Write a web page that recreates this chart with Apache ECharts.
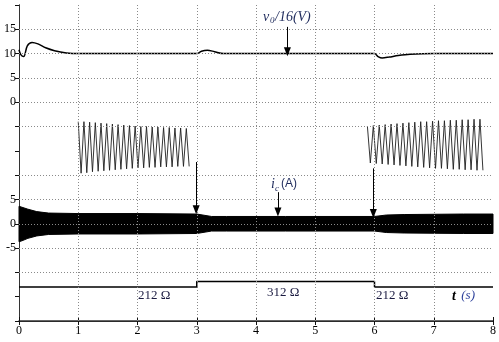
<!DOCTYPE html>
<html>
<head>
<meta charset="utf-8">
<script src="https://cdn.jsdelivr.net/npm/echarts@6/dist/echarts.min.js"></script>
<style>
  html, body { margin: 0; padding: 0; background: #fff; }
  #chart { width: 499px; height: 342px; }
</style>
</head>
<body>
<div id="chart"></div>
<script>
// 上面板 v0/16 (V)
var vTime = [0, 0.03, 0.08, 0.14, 0.22, 0.32, 0.45, 0.6, 0.8, 1.0, 3.0, 3.08, 3.18, 3.3, 3.45, 6.0, 6.06, 6.13, 6.25, 6.4, 6.6, 7.0, 8.0]
var vValue = [10.8, 9.8, 9.4, 11.6, 12.3, 12.0, 11.2, 10.6, 10.15, 10.0, 10.0, 10.5, 10.7, 10.4, 10.0, 10.0, 9.4, 9.1, 9.3, 9.6, 9.85, 10.0, 10.0]

// ic (A) 包络线
var iTime = [0, 0.05, 0.15, 0.3, 0.5, 1.0, 2.0, 3.0, 3.25, 3.5, 4.5, 6.0, 6.2, 6.5, 7.5, 8.0]
var iUpper = [3.6, 3.4, 3.0, 2.5, 2.2, 2.1, 2.1, 2.0, 1.5, 1.5, 1.5, 1.5, 1.8, 1.9, 2.0, 2.0]
var iLower = [-3.7, -3.5, -3.0, -2.5, -2.2, -2.1, -2.1, -2.0, -1.5, -1.5, -1.5, -1.5, -1.8, -1.9, -2.0, -2.0]

// 放大波形 (峰值, 画布纵坐标单位)
var leftStart = 1.0
var leftPeriod = 0.096
var leftTop = [41.0, 41.0, 40.9, 40.8, 40.7, 40.6, 40.5, 40.4, 40.3, 40.2, 40.1, 40.0, 40.0, 39.9, 39.9, 39.8, 39.8, 39.7, 39.7, 39.6]
var leftBottom = [30.4, 30.5, 30.7, 30.8, 30.9, 31.0, 31.1, 31.2, 31.3, 31.4, 31.5, 31.5, 31.6, 31.6, 31.7, 31.7, 31.7, 31.8, 31.8, 31.8]
var rightStart = 5.88
var rightPeriod = 0.1
var rightTop = [40.1, 40.2, 40.3, 40.4, 40.5, 40.6, 40.7, 40.8, 40.9, 41.0, 41.0, 41.1, 41.2, 41.2, 41.3, 41.3, 41.4, 41.4, 41.5, 41.5]
var rightBottom = [32.5, 32.4, 32.3, 32.2, 32.1, 32.0, 31.9, 31.8, 31.7, 31.6, 31.5, 31.4, 31.4, 31.3, 31.2, 31.2, 31.1, 31.1, 31.0, 31.0]

// 负载电阻
var loadTime = [0, 3, 6, 8]
var loadOhm = [212, 312, 212, 212]

// 刻度
var yLabels = { 15: '-5', 20: '0', 25: '5', 45: '0', 50: '5', 55: '10', 60: '15' }
var gridY = [10, 15, 20, 25, 30, 40, 45, 50, 55, 60]
var gridX = [1, 2, 3, 4, 5, 6, 7]

var V_OFFSET = 45
var I_OFFSET = 20
var loadToY = function (r) { return 7.0 + (r - 212) * 0.0115 }

var serif = 'Liberation Serif'
var navy = '#1f2b5c'

function inset (start, period, tops, bottoms) {
  var pts = []
  for (var k = 0; k < tops.length; k++) {
    pts.push([start + k * period, tops[k]])
    pts.push([start + (k + 0.5) * period, bottoms[k]])
  }
  return pts
}

function arrow (x, y1, y2) {
  return [{ coord: [x, y1] }, { coord: [x, y2] }]
}

// ic 波形带 (上下包络之间填充)
function renderBand (params, api) {
  var pts = []
  for (var i = 0; i < iTime.length; i++) {
    pts.push(api.coord([iTime[i], iUpper[i] + I_OFFSET]))
  }
  for (var j = iTime.length - 1; j >= 0; j--) {
    pts.push(api.coord([iTime[j], iLower[j] + I_OFFSET]))
  }
  return {
    type: 'polygon',
    shape: { points: pts },
    style: { fill: '#000', stroke: '#000', lineWidth: 1 }
  }
}

var chart = echarts.init(document.getElementById('chart'))

var option = {
  animation: false,
  grid: { left: 19, right: 4, top: 5, bottom: 21 },
  xAxis: [
    {
      type: 'value', min: 0, max: 8, interval: 1,
      axisLine: { lineStyle: { color: '#111', width: 1 } },
      axisTick: { inside: true, length: 4, lineStyle: { color: '#111' } },
      axisLabel: { margin: 4, color: '#000', fontFamily: serif, fontSize: 12 },
      splitLine: { show: false }
    },
    {
      type: 'value', min: 0, max: 8, interval: 1, position: 'top',
      axisLine: { show: true, lineStyle: { color: '#333', width: 1.5 } },
      axisTick: { inside: true, length: 4, lineStyle: { color: '#111' } },
      axisLabel: { show: false },
      splitLine: { show: false }
    }
  ],
  yAxis: [
    {
      type: 'value', min: 0, max: 65, interval: 5,
      axisLine: { show: true, lineStyle: { color: '#111', width: 1 } },
      axisTick: { show: false },
      axisLabel: {
        margin: 3, color: '#000', fontFamily: serif, fontSize: 12,
        formatter: function (v) { return yLabels[v] || '' }
      },
      splitLine: { show: false }
    },
    {
      type: 'value', min: 0, max: 65, interval: 5, position: 'right',
      axisLine: { show: true, lineStyle: { color: '#333', width: 1 } },
      axisTick: { inside: true, length: 4, lineStyle: { color: '#111' } },
      axisLabel: { show: false },
      splitLine: { show: false }
    }
  ],
  series: [
    {
      // 网格虚线
      type: 'line', data: [], silent: true, z: 1,
      markLine: {
        silent: true, symbol: 'none', animation: false,
        label: { show: false },
        lineStyle: { color: '#8a8a8a', type: [1, 2], width: 1 },
        data: gridY.map(function (v) { return { yAxis: v } })
          .concat(gridX.map(function (v) { return { xAxis: v } }))
      }
    },
    {
      name: 'v0/16', type: 'line', showSymbol: false, smooth: 0.3, z: 3,
      lineStyle: { color: '#000', width: 1.5 },
      data: vTime.map(function (t, i) { return [t, vValue[i] + V_OFFSET] })
    },
    {
      name: 'ic', type: 'custom', z: 3, silent: true,
      renderItem: renderBand,
      data: [[0, I_OFFSET]]
    },
    {
      name: 'zoom-left', type: 'line', showSymbol: false, z: 3,
      lineStyle: { color: '#1e1e1e', width: 0.9 },
      data: inset(leftStart, leftPeriod, leftTop, leftBottom)
    },
    {
      name: 'zoom-right', type: 'line', showSymbol: false, z: 3,
      lineStyle: { color: '#1e1e1e', width: 0.9 },
      data: inset(rightStart, rightPeriod, rightTop, rightBottom)
    },
    {
      name: 'load', type: 'line', step: 'end', showSymbol: false, z: 3,
      lineStyle: { color: '#000', width: 1.5 },
      data: loadTime.map(function (t, i) { return [t, loadToY(loadOhm[i])] })
    },
    {
      // 箭头
      type: 'line', data: [], silent: true, z: 4,
      markLine: {
        silent: true, animation: false,
        symbol: ['none', 'triangle'], symbolSize: [7, 9],
        label: { show: false },
        lineStyle: { color: '#000', type: 'solid', width: 1 },
        data: [
          arrow(4.53, 60.5, 55.4),
          arrow(4.37, 26.5, 22.4),
          arrow(2.99, 32.7, 22.9),
          arrow(5.98, 31.4, 22.1)
        ]
      }
    }
  ],
  graphic: [
    { type: 'text', left: 263, top: 10, style: { text: 'v', font: 'italic 14px ' + serif, fill: navy } },
    { type: 'text', left: 270, top: 16, style: { text: '0', font: 'italic 9px ' + serif, fill: navy } },
    { type: 'text', left: 275, top: 10, style: { text: '/16(V)', font: 'italic 14px ' + serif, fill: navy } },
    { type: 'text', left: 271, top: 177, style: { text: 'i', font: 'italic 14px ' + serif, fill: navy } },
    { type: 'text', left: 275, top: 184, style: { text: 'c', font: 'italic 9px ' + serif, fill: navy } },
    { type: 'text', left: 281, top: 178, style: { text: '(A)', font: '12px Liberation Sans', fill: navy } },
    { type: 'text', left: 138, top: 289, style: { text: '212 Ω', font: '13px ' + serif, fill: '#1a1a40' } },
    { type: 'text', left: 267, top: 286, style: { text: '312 Ω', font: '13px ' + serif, fill: '#1a1a40' } },
    { type: 'text', left: 376, top: 289, style: { text: '212 Ω', font: '13px ' + serif, fill: '#1a1a40' } },
    { type: 'text', left: 452, top: 289, style: { text: 't', font: 'italic bold 14px ' + serif, fill: '#000' } },
    { type: 'text', left: 458, top: 289, style: { text: ' (s)', font: 'italic 13px ' + serif, fill: '#2b3f9a' } }
  ]
}

chart.setOption(option)
</script>
</body>
</html>
